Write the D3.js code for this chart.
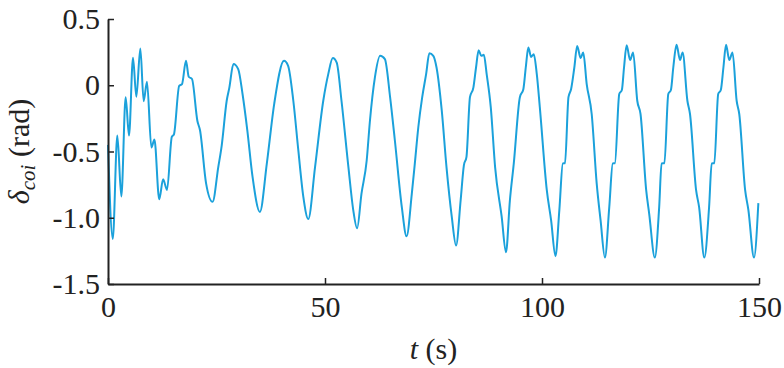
<!DOCTYPE html>
<html>
<head>
<meta charset="utf-8">
<script src="https://cdn.jsdelivr.net/npm/d3@7"></script>
<style>
  body { margin: 0; background: #fff; }
</style>
</head>
<body>
<svg id="chart" width="784" height="368"></svg>
<script>
// time (s) and rotor angle values
const times = [
  0, 1.1, 2.15, 3.07, 4.07, 4.84, 5.76, 6.53, 7.45, 8.22, 8.98, 10.0, 10.7, 11.8, 12.7, 13.6,
  14.7, 15.2, 16.4, 17.05, 17.97, 18.6, 19.35, 20.6, 21.2, 22.6, 24.1, 25.4, 26.2, 27.35, 27.95,
  28.9, 30.0, 31.0, 32.1, 33.3, 35.0, 36.6, 38.3, 40.55, 41.5, 42.7, 43.85, 45.0, 46.15, 47.7,
  49.6, 50.75, 51.8, 52.7, 53.8, 55.4, 56.5, 57.4, 58.4, 59.6, 60.35, 61.5, 62.7, 63.8, 65.0,
  66.1, 67.7, 68.8, 70.0, 70.7, 71.5, 72.4, 73.3, 74.05, 74.95, 75.7, 76.9, 78.0, 79.2, 80.2,
  81.25, 82.0, 82.6, 83.4, 84.2, 84.8, 85.4, 86.0, 86.6, 87.25, 88.2, 89.2, 90.7, 91.7, 92.6,
  93.5, 94.9, 95.7, 96.3, 96.85, 97.5, 98.1, 98.8, 99.5, 101.1, 102.1, 103.1, 104.0, 104.8,
  105.3, 106.1, 106.7, 107.45, 108.1, 108.9, 109.5, 110.3, 111.45, 112.6, 113.5, 114.5, 115.5,
  116.3, 116.8, 117.8, 118.4, 118.9, 119.5, 120.3, 121.0, 121.95, 122.7, 124.0, 124.7, 126.0,
  127.0, 127.55, 128.2, 129.1, 129.7, 130.25, 131.0, 131.8, 132.4, 133.5, 134.1, 135.5, 136.2,
  137.4, 138.5, 139.1, 139.7, 140.6, 141.2, 141.8, 142.4, 143.15, 143.9, 144.85, 145.45, 146.8,
  147.55, 148.85, 149.85
];
const deltaCoi = [
  -0.45, -1.16, -0.38, -0.84, -0.09, -0.38, 0.207, -0.087, 0.277, -0.12, 0.026, -0.47, -0.41, -0.86, -0.71, -0.79,
  -0.39, -0.37, -0.004, 0.009, 0.184, 0.064, 0.047, -0.27, -0.34, -0.74, -0.88, -0.62, -0.455, -0.117, -0.02,
  0.16, 0.122, -0.066, -0.34, -0.69, -0.956, -0.59, -0.14, 0.184, 0.147, -0.117, -0.49, -0.84, -1.01, -0.62,
  -0.117, 0.084, 0.205, 0.17, -0.117, -0.62, -0.94, -1.08, -0.82, -0.57, -0.27, 0.059, 0.222, 0.197, -0.09,
  -0.417, -0.92, -1.14, -0.82, -0.59, -0.317, -0.09, 0.084, 0.242, 0.222, 0.134, -0.19, -0.62, -0.99, -1.21,
  -0.87, -0.605, -0.54, -0.09, -0.016, 0.134, 0.265, 0.222, 0.23, 0.084, -0.167, -0.62, -0.99, -1.26, -0.87,
  -0.59, -0.09, -0.03, 0.147, 0.285, 0.214, 0.234, 0.084, -0.167, -0.79, -1.02, -1.29, -0.94, -0.59,
  -0.588, -0.09, -0.03, 0.134, 0.297, 0.205, 0.247, 0.009, -0.217, -0.74, -1.02, -1.30, -0.92,
  -0.59, -0.588, -0.066, -0.036, 0.134, 0.302, 0.19, 0.247, -0.117, -0.217, -0.79, -0.97, -1.30,
  -0.92, -0.59, -0.588, -0.066, -0.036, 0.134, 0.305, 0.19, 0.247, -0.117, -0.217, -0.79, -0.92,
  -1.30, -0.92, -0.59, -0.588, -0.066, -0.036, 0.134, 0.305, 0.19, 0.247, -0.117, -0.217, -0.79,
  -0.94, -1.30, -0.89
];
const xTicks = [0, 50, 100, 150];
const yTicks = [0.5, 0, -0.5, -1.0, -1.5];
const yTickLabels = ["0.5", "0", "-0.5", "-1.0", "-1.5"];

const serif = "'Liberation Serif', 'DejaVu Serif', serif";
const svg = d3.select("#chart");
const margin = { left: 108, right: 25, top: 19, bottom: 84 };
const width = 784, height = 368;

const x = d3.scaleLinear().domain([0, 150]).range([margin.left, width - margin.right]);
const y = d3.scaleLinear().domain([-1.5, 0.5]).range([height - margin.bottom, margin.top]);

const data = times.map((t, i) => ({ t: t, v: deltaCoi[i] }));

// curve
const line = d3.line()
  .x(d => x(d.t))
  .y(d => y(d.v))
  .curve(d3.curveMonotoneX);

svg.append("path")
  .datum(data)
  .attr("fill", "none")
  .attr("stroke", "#1ba1db")
  .attr("stroke-width", 2)
  .attr("d", line);

// axes, ticks pointing inward
const xAxis = svg.append("g")
  .attr("transform", "translate(0," + y(-1.5) + ")")
  .call(d3.axisBottom(x).tickValues(xTicks).tickSizeInner(-6).tickSizeOuter(0).tickPadding(12).tickFormat(d3.format("d")));
const yAxis = svg.append("g")
  .attr("transform", "translate(" + x(0) + ",0)")
  .call(d3.axisLeft(y).tickValues(yTicks).tickSizeInner(-6).tickSizeOuter(0).tickPadding(8)
    .tickFormat((d, i) => yTickLabels[i]));

svg.selectAll("g").attr("font-family", serif).attr("font-size", 30);
svg.selectAll(".domain").attr("stroke", "#222").attr("stroke-width", 2);
svg.selectAll(".tick line").attr("stroke", "#222").attr("stroke-width", 1.5);
svg.selectAll(".tick text").attr("fill", "#222");

// axis labels
const xLabel = svg.append("text")
  .attr("x", (x(0) + x(150)) / 2)
  .attr("y", 359)
  .attr("text-anchor", "middle")
  .attr("fill", "#222")
  .attr("font-family", serif)
  .attr("font-size", 30);
xLabel.append("tspan").attr("font-style", "italic").text("t");
xLabel.append("tspan").text(" (s)");

const yLabel = svg.append("text")
  .attr("transform", "translate(29," + y(-0.5) + ") rotate(-90)")
  .attr("text-anchor", "middle")
  .attr("fill", "#222")
  .attr("font-family", serif)
  .attr("font-size", 30);
yLabel.append("tspan").attr("font-style", "italic").text("δ");
yLabel.append("tspan").attr("font-style", "italic").attr("font-size", 21).attr("dy", 6).text("coi");
yLabel.append("tspan").attr("dy", -6).text(" (rad)");
</script>
</body>
</html>
